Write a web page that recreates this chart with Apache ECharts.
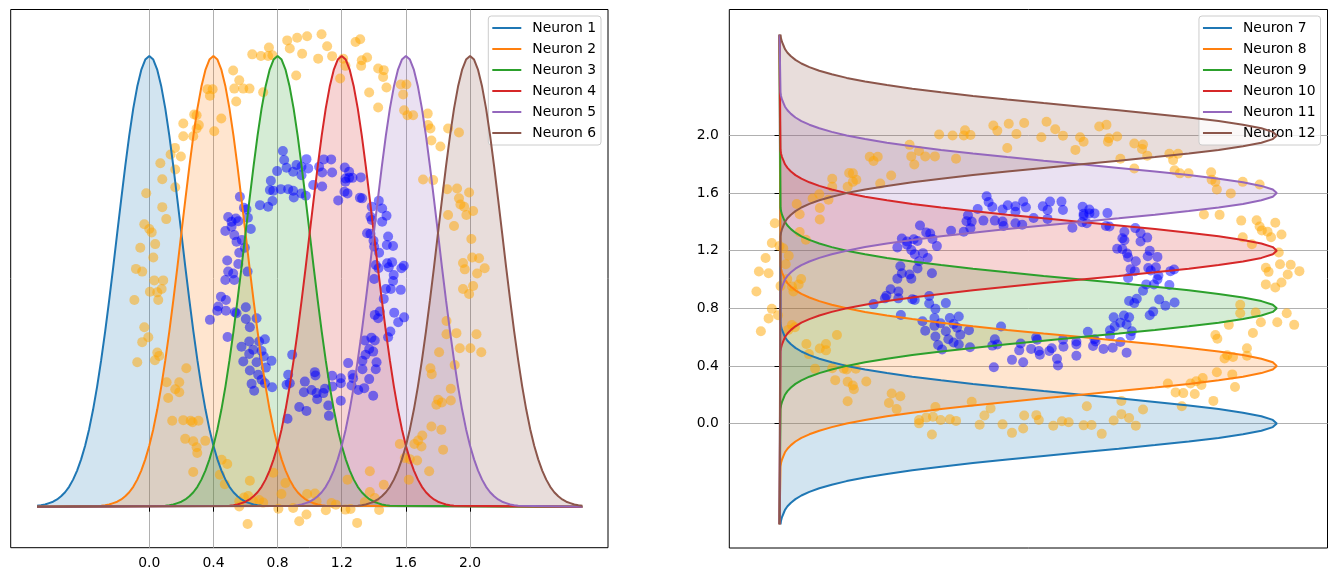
<!DOCTYPE html>
<html>
<head>
<meta charset="utf-8">
<script src="https://cdn.jsdelivr.net/npm/echarts@6/dist/echarts.min.js"></script>
<style>
html, body { margin: 0; padding: 0; background: #fff; }
#chart { width: 1337px; height: 582px; }
</style>
</head>
<body>
<div id="chart"></div>
<script>
// neuron names / colours
var leftNames = ['Neuron 1', 'Neuron 2', 'Neuron 3', 'Neuron 4', 'Neuron 5', 'Neuron 6'];
var rightNames = ['Neuron 7', 'Neuron 8', 'Neuron 9', 'Neuron 10', 'Neuron 11', 'Neuron 12'];
var centers = [0.0, 0.4, 0.8, 1.2, 1.6, 2.0];
var colors = ['#1f77b4', '#ff7f0e', '#2ca02c', '#d62728', '#9467bd', '#8c564b'];
var tickValues = [0.0, 0.4, 0.8, 1.2, 1.6, 2.0];

// tuning curve: response read at 0.025 steps away from the centre (symmetric)
var curveStart = -0.7;
var curveEnd = 2.7;
var profileStep = 0.025;
var profile = [1, 0.992, 0.969, 0.932, 0.883, 0.823, 0.755, 0.682, 0.607, 0.531,
	0.458, 0.389, 0.325, 0.267, 0.216, 0.172, 0.135, 0.105, 0.080, 0.060,
	0.044, 0.032, 0.023, 0.016, 0.011, 0.008, 0.005, 0.003, 0.002];

// ring points [x, y]
var orangePoints = [
	[0.642,2.007],[0.696,2.000],[0.746,2.037],[0.741,2.000],[0.768,2.003],[0.860,2.069],[0.922,2.081],[0.984,2.087],
	[0.876,2.033],[0.953,2.010],[0.916,1.913],[0.523,1.935],[0.561,1.892],[0.530,1.855],[0.586,1.855],[0.625,1.855],
	[0.542,1.798],[0.710,1.839],[0.363,1.852],[0.395,1.852],[0.378,1.823],[0.280,1.740],[0.295,1.737],[0.212,1.700],
	[0.309,1.693],[0.295,1.678],[0.212,1.644],[0.274,1.644],[0.405,1.666],[0.449,1.722],[0.160,1.592],[0.133,1.563],
	[0.197,1.554],[0.069,1.524],[0.162,1.496],[0.081,1.453],[0.162,1.417],[-0.019,1.391],[0.081,1.329],[0.106,1.276],
	[-0.031,1.253],[0.000,1.232],[0.015,1.217],[0.037,1.165],[-0.056,1.149],[0.025,1.106],[-0.083,1.055],[-0.044,1.043],
	[0.031,1.004],[0.087,1.004],
	[1.074,2.096],[1.109,2.043],[1.053,1.988],[1.140,1.999],[1.286,2.062],[1.315,2.074],[1.209,1.988],[1.223,1.956],
	[1.190,1.900],[1.325,1.981],[1.358,1.993],[1.321,1.956],[1.427,1.944],[1.462,1.937],[1.458,1.907],[1.479,1.860],
	[1.371,1.838],[1.427,1.771],[1.568,1.873],[1.603,1.873],[1.583,1.829],[1.589,1.759],[1.610,1.737],[1.645,1.737],
	[1.736,1.744],[1.738,1.693],[1.753,1.678],[1.759,1.625],[1.815,1.598],[1.863,1.678],[1.931,1.660],[1.707,1.452],
	[1.770,1.449],[1.857,1.409],[1.919,1.412],[1.994,1.394],[1.931,1.368],[1.940,1.341],[1.963,1.331],[2.019,1.312],
	[1.977,1.294],[1.863,1.294],[1.900,1.245],[2.008,1.188],[2.013,1.106],[2.056,1.102],[1.956,1.081],[1.967,1.053],
	[2.044,1.035],[2.091,1.058],
	[0.004,0.954],[0.050,0.951],[0.077,0.966],[0.056,0.917],[-0.093,0.917],[-0.031,0.796],[-0.006,0.752],[-0.044,0.730],
	[0.050,0.684],[0.062,0.669],[0.035,0.650],[-0.075,0.641],[0.231,0.614],[0.108,0.552],[0.187,0.552],[0.162,0.521],
	[0.187,0.508],[0.118,0.482],[0.143,0.381],[0.212,0.384],[0.258,0.381],[0.270,0.375],[0.307,0.381],[0.224,0.301],
	[0.274,0.290],[0.295,0.264],[0.299,0.238],[0.349,0.292],[0.274,0.154],[0.451,0.208],[0.486,0.189],[0.440,0.142],
	[0.471,0.100],[0.627,0.115],[0.561,0.024],[0.590,0.041],[0.617,0.047],[0.648,0.024],[0.685,0.030],[0.710,0.018],
	[0.561,0.001],[0.613,-0.077],[0.773,0.151],[0.849,0.105],[0.824,0.056],[0.805,-0.009],[0.897,-0.006],[0.935,-0.065],
	[0.980,-0.035],[0.984,0.056],
	[1.956,0.966],[1.994,0.944],[2.019,0.979],[1.853,0.824],[1.853,0.765],[1.915,0.770],[2.040,0.765],[1.936,0.703],
	[2.002,0.703],[2.070,0.685],[1.807,0.685],[1.904,0.629],[1.753,0.614],[1.761,0.588],[1.880,0.523],[1.801,0.474],
	[1.824,0.462],[1.790,0.452],[1.880,0.471],[1.759,0.356],[1.821,0.341],[1.702,0.316],[1.676,0.294],[1.653,0.278],
	[1.697,0.267],[1.562,0.278],[1.832,0.253],[1.593,0.216],[1.624,0.211],[1.670,0.205],[1.745,0.157],[1.618,0.120],
	[1.375,0.157],[1.236,0.120],[1.462,0.097],[1.375,0.065],[1.406,0.038],[1.344,0.021],[1.033,0.058],[1.043,0.024],
	[1.136,0.016],[1.163,0.009],[1.101,-0.016],[1.223,-0.013],[1.255,-0.010],[1.433,-0.015],[1.296,-0.072]
];
var bluePoints = [
	[0.833,1.578],[0.841,1.538],[0.797,1.489],[0.856,1.504],[0.897,1.486],[0.918,1.516],[0.949,1.508],[0.949,1.471],
	[0.980,1.542],[0.991,1.501],[0.758,1.446],[0.752,1.405],[0.773,1.402],[0.820,1.409],[0.866,1.409],[0.897,1.402],
	[0.901,1.372],[0.949,1.390],[0.976,1.380],[0.690,1.338],[0.741,1.331],[0.768,1.356],[0.565,1.375],[0.590,1.326],
	[0.606,1.319],[0.615,1.282],[0.555,1.267],[0.492,1.285],[0.513,1.264],[0.540,1.279],[0.513,1.242],[0.633,1.232],
	[0.474,1.223],[0.530,1.205],[0.544,1.176],[0.577,1.183],[0.596,1.149],[0.561,1.127],[0.486,1.092],[0.555,1.077],
	[0.492,1.043],[0.523,1.035],[0.613,1.043],[0.474,1.006],[0.530,1.006],
	[1.088,1.541],[1.134,1.541],[1.059,1.508],[1.078,1.483],[1.140,1.483],[1.022,1.427],[1.078,1.421],[1.219,1.505],
	[1.246,1.486],[1.223,1.456],[1.246,1.459],[1.267,1.459],[1.223,1.442],[1.319,1.461],[1.217,1.397],[1.236,1.390],
	[1.178,1.359],[1.313,1.371],[1.327,1.368],[1.431,1.357],[1.387,1.331],[1.452,1.323],[1.479,1.291],[1.379,1.287],
	[1.387,1.272],[1.452,1.264],[1.358,1.213],[1.379,1.211],[1.489,1.199],[1.398,1.180],[1.481,1.161],[1.520,1.157],
	[1.402,1.154],[1.433,1.127],[1.412,1.072],[1.429,1.058],[1.483,1.080],[1.514,1.085],[1.493,1.062],[1.587,1.069],
	[1.572,1.058],[1.524,1.028],[1.402,1.010],
	[0.447,0.932],[0.478,0.917],[0.430,0.888],[0.424,0.869],[0.478,0.869],[0.534,0.863],[0.544,0.858],[0.602,0.885],
	[0.378,0.829],[0.602,0.833],[0.627,0.796],[0.669,0.836],[0.488,0.753],[0.623,0.733],[0.685,0.733],[0.721,0.743],
	[0.575,0.710],[0.648,0.696],[0.623,0.678],[0.700,0.691],[0.714,0.666],[0.586,0.644],[0.669,0.641],[0.762,0.647],
	[0.727,0.617],[0.627,0.604],[0.679,0.585],[0.700,0.563],[0.638,0.545],[0.654,0.514],[0.721,0.548],[0.766,0.530],
	[0.891,0.674],[0.866,0.585],[0.876,0.548],[0.856,0.541],[0.970,0.555],[0.964,0.508],[0.935,0.442],[0.980,0.425],
	[0.862,0.390],
	[1.520,1.001],[1.475,0.966],[1.506,0.966],[1.568,0.962],[1.462,0.922],[1.406,0.851],[1.427,0.836],[1.437,0.866],
	[1.527,0.861],[1.589,0.840],[1.552,0.818],[1.503,0.777],[1.489,0.752],[1.385,0.750],[1.406,0.737],[1.344,0.737],
	[1.371,0.700],[1.396,0.688],[1.348,0.674],[1.329,0.648],[1.417,0.641],[1.412,0.610],[1.329,0.610],[1.240,0.637],
	[1.267,0.585],[1.271,0.570],[1.261,0.538],[1.303,0.518],[1.340,0.526],[1.371,0.566],[1.396,0.492],[1.194,0.570],
	[1.194,0.548],[1.140,0.581],[1.142,0.533],[1.095,0.523],[1.085,0.504],[1.032,0.597],[1.036,0.582],[1.012,0.518],
	[1.043,0.504],[1.047,0.477],[1.116,0.449],[1.120,0.403],[1.194,0.470]
];

var FONT = 'DejaVu Sans';

function rgba(hex, a) {
	var n = parseInt(hex.slice(1), 16);
	return 'rgba(' + ((n >> 16) & 255) + ',' + ((n >> 8) & 255) + ',' + (n & 255) + ',' + a + ')';
}

// curve points as [position, response]
function buildCurve(center) {
	var pts = [];
	var n = profile.length - 1;
	if (center - n * profileStep > curveStart + 1e-6) pts.push([curveStart, 0]);
	for (var k = -n; k <= n; k++) {
		pts.push([+(center + k * profileStep).toFixed(4), profile[Math.abs(k)]]);
	}
	if (center + n * profileStep < curveEnd - 1e-6) pts.push([curveEnd, 0]);
	return pts;
}

var leftCurves = centers.map(function (c) { return buildCurve(c); });
var rightCurves = centers.map(function (c) {
	return buildCurve(c).map(function (p) { return [p[1], p[0]]; });
});

function fillSeries(curves, xi, yi) {
	return {
		type: 'custom',
		xAxisIndex: xi,
		yAxisIndex: yi,
		silent: true,
		z: 1,
		data: curves.map(function (c, i) { return [0, 0]; }),
		renderItem: function (params, api) {
			var i = params.dataIndex;
			var pts = curves[i].map(function (p) { return api.coord(p); });
			return {
				type: 'polygon',
				shape: { points: pts },
				style: { fill: rgba(colors[i], 0.2), stroke: null }
			};
		}
	};
}

function lineSeries(names, curves, xi, yi) {
	return names.map(function (name, i) {
		return {
			type: 'line',
			name: name,
			xAxisIndex: xi,
			yAxisIndex: yi,
			data: curves[i],
			showSymbol: false,
			symbol: 'none',
			clip: false,
			z: 4,
			lineStyle: { width: 2, color: colors[i] },
			itemStyle: { color: colors[i] }
		};
	});
}

function scatterSeries(points, color, xi, yi) {
	return {
		type: 'scatter',
		xAxisIndex: xi,
		yAxisIndex: yi,
		data: points,
		symbol: 'circle',
		symbolSize: 10,
		silent: true,
		z: 2,
		itemStyle: { color: color, opacity: 1 }
	};
}

function legendFor(names, right) {
	return {
		data: names,
		orient: 'vertical',
		right: right,
		top: 16,
		icon: 'rect',
		itemWidth: 29,
		itemHeight: 2,
		itemGap: 5,
		padding: [4, 5, 4, 4],
		backgroundColor: 'rgba(255,255,255,0.8)',
		borderColor: '#cccccc',
		borderWidth: 1,
		borderRadius: 3,
		textStyle: { fontFamily: FONT, fontSize: 13.9, color: '#000', lineHeight: 16, padding: [0, 0, 0, 6] }
	};
}

var tickLabelStyle = {
	customValues: tickValues,
	fontFamily: FONT,
	fontSize: 13.9,
	color: '#000',
	formatter: function (v) { return v.toFixed(1); }
};
var tickStyle = { show: true, customValues: tickValues, length: 5, lineStyle: { color: '#000', width: 1 } };
var gridLine = { show: true, lineStyle: { color: '#b0b0b0', width: 1 } };

var chart = echarts.init(document.getElementById('chart'));
var option = {
	animation: false,
	backgroundColor: '#fff',
	grid: [
		{ left: 10.7, top: 9.5, width: 597.3, height: 538.2, show: true, borderColor: '#000', borderWidth: 1, backgroundColor: 'transparent' },
		{ left: 729.3, top: 9.5, width: 598.2, height: 538.5, show: true, borderColor: '#000', borderWidth: 1, backgroundColor: 'transparent' }
	],
	xAxis: [
		{ type: 'value', gridIndex: 0, min: -0.864, max: 2.860, axisLine: { show: false },
			axisTick: tickStyle, axisLabel: Object.assign({ margin: 9 }, tickLabelStyle), splitLine: gridLine },
		{ type: 'value', gridIndex: 1, min: -0.101, max: 1.102, show: false, splitLine: { show: false } },
		{ type: 'value', gridIndex: 1, min: -0.202, max: 2.204, show: false, splitLine: { show: false } }
	],
	yAxis: [
		{ type: 'value', gridIndex: 0, min: -0.091, max: 1.103, show: false, splitLine: { show: false } },
		{ type: 'value', gridIndex: 0, min: -0.182, max: 2.206, show: false, splitLine: { show: false } },
		{ type: 'value', gridIndex: 1, min: -0.8646, max: 2.875, axisLine: { show: false },
			axisTick: tickStyle, axisLabel: Object.assign({ margin: 10.5 }, tickLabelStyle), splitLine: gridLine }
	],
	legend: [legendFor(leftNames, 736), legendFor(rightNames, 16.5)],
	series: [].concat(
		[fillSeries(leftCurves, 0, 0)],
		[scatterSeries(orangePoints, 'rgba(255,165,0,0.5)', 0, 1), scatterSeries(bluePoints, 'rgba(0,0,255,0.5)', 0, 1)],
		lineSeries(leftNames, leftCurves, 0, 0),
		[fillSeries(rightCurves, 1, 2)],
		[scatterSeries(orangePoints, 'rgba(255,165,0,0.5)', 2, 2), scatterSeries(bluePoints, 'rgba(0,0,255,0.5)', 2, 2)],
		lineSeries(rightNames, rightCurves, 1, 2)
	)
};
chart.setOption(option);
</script>
</body>
</html>
